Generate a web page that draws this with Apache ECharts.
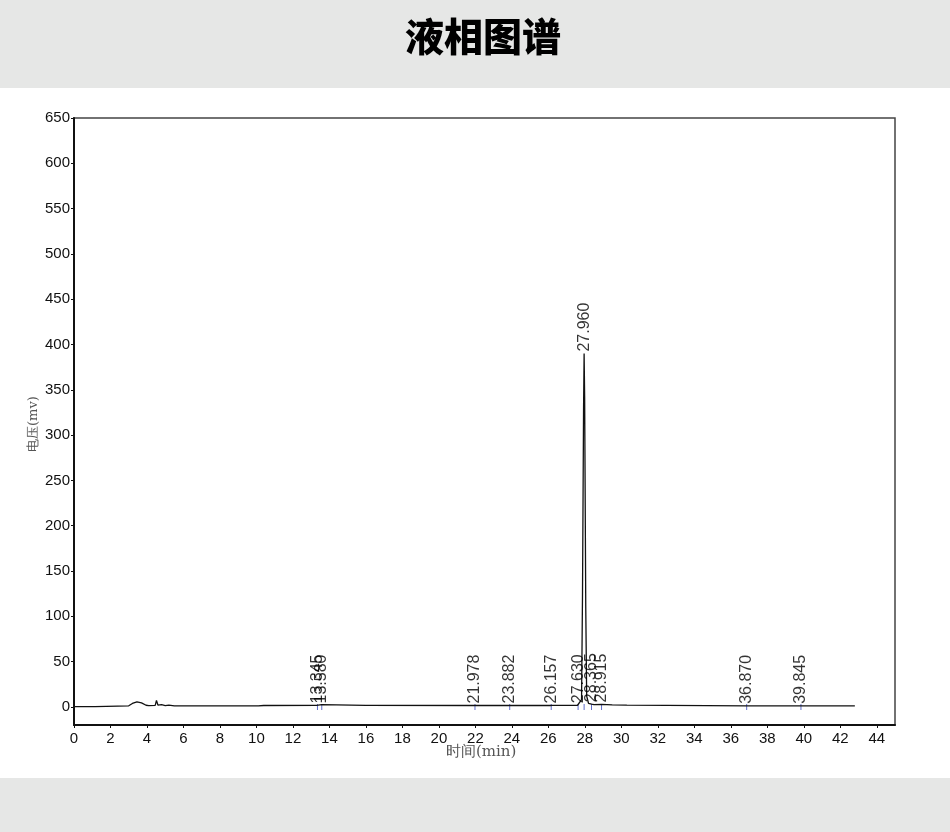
<!DOCTYPE html>
<html lang="zh">
<head>
<meta charset="UTF-8">
<title>液相图谱</title>
<script src="https://cdn.jsdelivr.net/npm/echarts@6/dist/echarts.min.js"></script>
</head>
<body style="margin:0;background:#fff;">
<div id="main" style="width:950px;height:832px;"></div>
<script>
// 色谱曲线 (时间 min, 电压 mv)
var times = [0, 1.15, 1.2, 3.0, 3.2, 3.45, 3.7, 3.95, 4.1, 4.45, 4.52, 4.6, 4.8, 5.0, 5.2, 5.5, 5.6, 9.7, 9.8, 9.95, 10.1, 10.4,
    13.3, 13.35, 13.4, 13.58, 13.65, 16.0, 21.9, 21.98, 22.05, 23.8, 23.88, 23.95, 26.1, 26.16, 26.25, 27.6, 27.63, 27.7,
    27.82, 27.87, 27.93, 27.96, 27.99, 28.05, 28.1, 28.2, 28.37, 28.5, 28.92, 29.5, 30.3, 30.4, 36.87, 39.85, 42.8];
var volts = [0.2, 0.2, 1.0, 1.2, 3.8, 5.6, 4.5, 1.8, 1.4, 1.6, 7.0, 2.0, 2.5, 1.4, 2.0, 1.2, 1.0, 1.0, 2.0, 1.2, 1.0, 1.5,
    1.6, 3.0, 1.7, 2.4, 1.7, 1.6, 1.5, 2.5, 1.6, 1.5, 2.5, 1.6, 1.5, 2.2, 1.6, 1.8, 3.5, 2.0,
    8.0, 120, 330, 390, 340, 110, 12, 4.0, 3.0, 2.4, 2.8, 2.2, 2.0, 1.0, 1.2, 1.2, 1.0];

// 峰保留时间及标注高度
var peakTimes = [13.345, 13.580, 21.978, 23.882, 26.157, 27.630, 27.960, 28.365, 28.915, 36.870, 39.845];
var peakTops = [1.6, 1.6, 1.5, 1.5, 1.5, 1.8, 390, 3.0, 2.6, 1.2, 1.2];

var xTickValues = [0, 2, 4, 6, 8, 10, 12, 14, 16, 18, 20, 22, 24, 26, 28, 30, 32, 34, 36, 38, 40, 42, 44];
var yTickValues = [0, 50, 100, 150, 200, 250, 300, 350, 400, 450, 500, 550, 600, 650];

var curve = times.map(function (t, i) { return [t, volts[i]]; });
var peaks = peakTimes.map(function (t, i) { return [t, peakTops[i]]; });
var peakBase = peakTimes.map(function (t) { return [t, 0]; });

var chart = echarts.init(document.getElementById('main'));
chart.setOption({
    animation: false,
    backgroundColor: '#fff',
    graphic: [
        { type: 'rect', shape: { x: 0, y: 0, width: 950, height: 88 }, style: { fill: '#e6e7e6' }, z: -10 },
        { type: 'rect', shape: { x: 0, y: 778, width: 950, height: 54 }, style: { fill: '#e6e7e6' }, z: -10 },
        {
            type: 'text', left: 405, top: 17,
            style: { text: '液相图谱', font: '900 39px "Noto Sans CJK SC"', fill: '#000' }
        },
        {
            type: 'text', left: 446, top: 745,
            style: { text: '时间(min)', font: '15px "DejaVu Serif", serif', fill: '#555' }
        },
        {
            type: 'text', x: 27, y: 452, rotation: Math.PI / 2,
            style: { text: '电压(mv)', font: '13px "DejaVu Serif", serif', fill: '#555' }
        }
    ],
    grid: {
        left: 74, right: 55, top: 118, bottom: 107,
        show: true, borderColor: '#444', borderWidth: 1.5, backgroundColor: 'transparent'
    },
    xAxis: {
        type: 'value', min: 0, max: 45,
        axisLine: { onZero: false, lineStyle: { color: '#111', width: 2 } },
        axisTick: { show: true, length: 3, customValues: xTickValues, lineStyle: { color: '#111' } },
        splitLine: { show: false },
        axisLabel: {
            color: '#111', fontSize: 15, fontFamily: 'Liberation Sans, Arial', margin: 6,
            customValues: xTickValues
        }
    },
    yAxis: {
        type: 'value', min: -20, max: 650,
        axisLine: { onZero: false, lineStyle: { color: '#111', width: 2 } },
        axisTick: { show: true, length: 3, customValues: yTickValues, lineStyle: { color: '#111' } },
        splitLine: { show: false },
        axisLabel: {
            color: '#111', fontSize: 15, fontFamily: 'Liberation Sans, Arial', margin: 4,
            customValues: yTickValues
        }
    },
    series: [
        {
            type: 'line', data: curve, symbol: 'none', z: 3,
            lineStyle: { color: '#111', width: 1.3 }
        },
        {
            type: 'scatter', data: peakBase, symbol: 'rect', symbolSize: [1, 6], z: 2,
            itemStyle: { color: '#3a4bc0' }
        },
        {
            type: 'scatter', data: peaks, symbolSize: 0, z: 4,
            label: {
                show: true, position: 'top', distance: 2, rotate: 90,
                align: 'left', verticalAlign: 'middle',
                fontSize: 16, fontFamily: 'Liberation Sans, Arial', color: '#000',
                formatter: function (p) { return p.value[0].toFixed(3); }
            }
        }
    ]
});
</script>
</body>
</html>
